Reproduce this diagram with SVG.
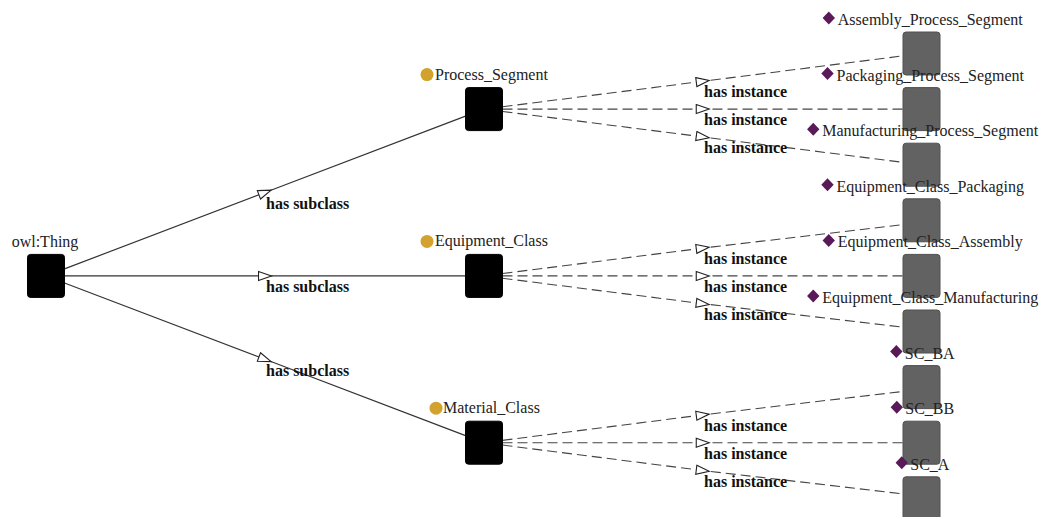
<svg xmlns="http://www.w3.org/2000/svg" width="1039" height="517" viewBox="0 0 1039 517">
<defs>
<style>
.bg{fill:#ffffff}
.cls{fill:#000000;stroke:#000000;stroke-width:1}
.inst{fill:#626262;stroke:#505050;stroke-width:1}
.lbl{font-family:"Liberation Serif","Times New Roman",serif;font-size:16px;fill:#222222}
.elbl{font-family:"Liberation Serif","Times New Roman",serif;font-size:16px;font-weight:bold;fill:#111111}
.sub{fill:none;stroke:#333333;stroke-width:1.2;marker-mid:url(#tri)}
.ins{fill:none;stroke:#444444;stroke-width:1.1;stroke-dasharray:10,5;marker-mid:url(#tri)}
.dot{fill:#d2a12e}
.dia{fill:#5a1a5a}
</style>
<marker id="tri" markerUnits="userSpaceOnUse" markerWidth="16" markerHeight="12" refX="6.5" refY="4.5" orient="auto" viewBox="-1 -1 16 12">
<path d="M0,0 L13,4.5 L0,9 Z" fill="#ffffff" stroke="#222222" stroke-width="1.1"/>
</marker>
</defs>
<rect class="bg" x="0" y="0" width="1039" height="517"/>

<g id="connectors">
<path class="sub" d="M64.5,268.86 L265,192.5 L465.5,116.15"/>
<path class="sub" d="M64.5,275.9 L265,275.9 L465.5,275.9"/>
<path class="sub" d="M64.5,282.94 L265,359.3 L465.5,435.65"/>
<text class="elbl" x="266" y="208.5">has subclass</text>
<text class="elbl" x="266" y="292">has subclass</text>
<text class="elbl" x="266" y="375.5">has subclass</text>

<path class="ins" d="M502.5,106.75 L702.75,81.3 L903,55.85"/>
<path class="ins" d="M502.5,109.1 L702.75,109.1 L903,109.1"/>
<path class="ins" d="M502.5,111.45 L702.75,136.9 L903,162.35"/>
<text class="elbl" x="704" y="97.3">has instance</text>
<text class="elbl" x="704" y="125.1">has instance</text>
<text class="elbl" x="704" y="152.9">has instance</text>

<path class="ins" d="M502.5,273.55 L702.75,248.1 L903,224.65"/>
<path class="ins" d="M502.5,275.9 L702.75,275.9 L903,275.9"/>
<path class="ins" d="M502.5,278.25 L702.75,303.7 L903,327.15"/>
<text class="elbl" x="704" y="264.1">has instance</text>
<text class="elbl" x="704" y="291.9">has instance</text>
<text class="elbl" x="704" y="319.7">has instance</text>

<path class="ins" d="M502.5,440.35 L702.75,414.9 L903,391.45"/>
<path class="ins" d="M502.5,442.7 L702.75,442.7 L903,442.7"/>
<path class="ins" d="M502.5,445.05 L702.75,470.5 L903,493.95"/>
<text class="elbl" x="704" y="430.9">has instance</text>
<text class="elbl" x="704" y="458.7">has instance</text>
<text class="elbl" x="704" y="486.5">has instance</text>
</g>

<g id="owl_Thing">
<rect class="cls" x="27.5" y="254.4" width="37" height="43" rx="3"/>
<text class="lbl" x="45" y="247.4" text-anchor="middle">owl:Thing</text>
</g>

<g id="Process_Segment">
<rect class="cls" x="465.5" y="87.6" width="37" height="43" rx="3"/>
<circle class="dot" cx="427" cy="74.6" r="6.5"/>
<text class="lbl" x="435" y="79.6">Process_Segment</text>
</g>

<g id="Equipment_Class">
<rect class="cls" x="465.5" y="254.4" width="37" height="43" rx="3"/>
<circle class="dot" cx="427" cy="241.4" r="6.5"/>
<text class="lbl" x="435" y="246.4">Equipment_Class</text>
</g>

<g id="Material_Class">
<rect class="cls" x="465.5" y="421.2" width="37" height="43" rx="3"/>
<circle class="dot" cx="436" cy="408.2" r="6.5"/>
<text class="lbl" x="443" y="413.2">Material_Class</text>
</g>

<g id="instance_boxes">
<rect id="box_Assembly_Process_Segment" class="inst" x="903" y="32" width="37" height="43" rx="3"/>
<rect id="box_Packaging_Process_Segment" class="inst" x="903" y="87.6" width="37" height="43" rx="3"/>
<rect id="box_Manufacturing_Process_Segment" class="inst" x="903" y="143.2" width="37" height="43" rx="3"/>
<rect id="box_Equipment_Class_Packaging" class="inst" x="903" y="198.8" width="37" height="43" rx="3"/>
<rect id="box_Equipment_Class_Assembly" class="inst" x="903" y="254.4" width="37" height="43" rx="3"/>
<rect id="box_Equipment_Class_Manufacturing" class="inst" x="903" y="310" width="37" height="43" rx="3"/>
<rect id="box_SC_BA" class="inst" x="903" y="365.6" width="37" height="43" rx="3"/>
<rect id="box_SC_BB" class="inst" x="903" y="421.2" width="37" height="43" rx="3"/>
<rect id="box_SC_A" class="inst" x="903" y="476.8" width="37" height="43" rx="3"/>
</g>

<g id="Assembly_Process_Segment">
<path class="dia" d="M828.8,11.5 L835,18 L828.8,24.5 L822.6,18 Z"/>
<text class="lbl" x="837.8" y="25">Assembly_Process_Segment</text>
</g>
<g id="Packaging_Process_Segment">
<path class="dia" d="M827.5,67.1 L833.7,73.6 L827.5,80.1 L821.3,73.6 Z"/>
<text class="lbl" x="836.5" y="80.6">Packaging_Process_Segment</text>
</g>
<g id="Manufacturing_Process_Segment">
<path class="dia" d="M813.25,122.7 L819.45,129.2 L813.25,135.7 L807.05,129.2 Z"/>
<text class="lbl" x="822.25" y="136.2">Manufacturing_Process_Segment</text>
</g>
<g id="Equipment_Class_Packaging">
<path class="dia" d="M827.5,178.3 L833.7,184.8 L827.5,191.3 L821.3,184.8 Z"/>
<text class="lbl" x="836.5" y="191.8">Equipment_Class_Packaging</text>
</g>
<g id="Equipment_Class_Assembly">
<path class="dia" d="M828.75,233.9 L834.95,240.4 L828.75,246.9 L822.55,240.4 Z"/>
<text class="lbl" x="837.75" y="247.4">Equipment_Class_Assembly</text>
</g>
<g id="Equipment_Class_Manufacturing">
<path class="dia" d="M813.25,289.5 L819.45,296 L813.25,302.5 L807.05,296 Z"/>
<text class="lbl" x="822.25" y="303">Equipment_Class_Manufacturing</text>
</g>
<g id="SC_BA">
<path class="dia" d="M896.35,345.1 L902.55,351.6 L896.35,358.1 L890.15,351.6 Z"/>
<text class="lbl" x="904.85" y="358.6">SC_BA</text>
</g>
<g id="SC_BB">
<path class="dia" d="M896.8,400.7 L903,407.2 L896.8,413.7 L890.6,407.2 Z"/>
<text class="lbl" x="905.3" y="414.2">SC_BB</text>
</g>
<g id="SC_A">
<path class="dia" d="M901.75,456.3 L907.95,462.8 L901.75,469.3 L895.55,462.8 Z"/>
<text class="lbl" x="910.25" y="469.8">SC_A</text>
</g>
</svg>
